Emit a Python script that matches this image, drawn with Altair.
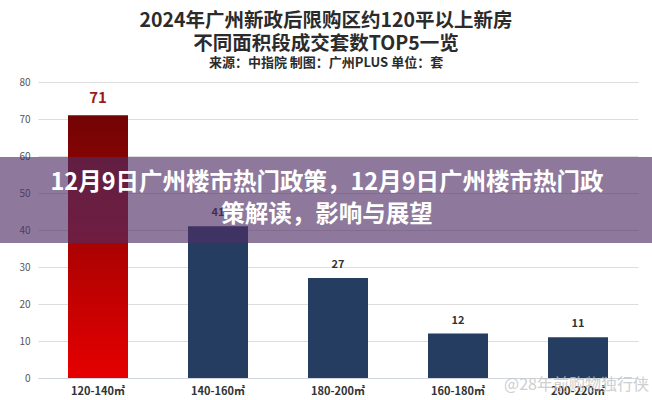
import altair as alt
import pandas as pd

categories = ["120-140㎡", "140-160㎡", "180-200㎡", "160-180㎡", "200-220㎡"]
values = [71, 41, 27, 12, 11]
y_ticks = [0, 10, 20, 30, 40, 50, 60, 70, 80]

title_lines = ["2024年广州新政后限购区约120平以上新房", "不同面积段成交套数TOP5一览"]
subtitle = "来源：中指院 制图：广州PLUS 单位：套"
overlay_lines = ["12月9日广州楼市热门政策，12月9日广州楼市热门政", "策解读，影响与展望"]
watermark = "@28年前购物独行侠"

FONT = "Noto Sans CJK SC"

df = pd.DataFrame({"cat": categories, "val": values})
df["first"] = [i == 0 for i in range(len(categories))]

xenc = alt.X("cat:N", sort=categories,
             scale=alt.Scale(paddingInner=0.5, paddingOuter=0.25),
             axis=alt.Axis(title=None, labelAngle=0, labelFont=FONT, labelFontSize=11,
                           labelFontWeight="bold", labelColor="#333333", ticks=False,
                           domainColor="#cfd6df", labelPadding=7))
yenc = alt.Y("val:Q", scale=alt.Scale(domain=[0, 80], nice=False),
             axis=alt.Axis(title=None, values=y_ticks, labelFont=FONT, labelFontSize=10,
                           labelColor="#555555", ticks=False, domain=False,
                           gridColor="#dddddd", labelPadding=8))

base = alt.Chart(df)

grad = alt.Gradient(gradient="linear",
                    stops=[alt.GradientStop(color="#720404", offset=0),
                           alt.GradientStop(color="#e60000", offset=1)],
                    x1=0, x2=0, y1=0, y2=1)

bar_red = base.transform_filter("datum.first").mark_bar(color=grad).encode(x=xenc, y=yenc)
bar_blue = base.transform_filter("!datum.first").mark_bar(color="#243d60").encode(x=xenc, y=yenc)

lbl_red = base.transform_filter("datum.first").mark_text(
    dy=-17, font=FONT, fontSize=15, fontWeight="bold", color="#9b1c1c"
).encode(x=xenc, y=yenc, text="val:Q")
lbl_blue = base.transform_filter("!datum.first").mark_text(
    dy=-13, font=FONT, fontSize=11, fontWeight="bold", color="#333333"
).encode(x=xenc, y=yenc, text="val:Q")

tdf = pd.DataFrame({"t": title_lines, "yy": [-61, -38]})
titles = alt.Chart(tdf).mark_text(font=FONT, fontSize=19.5, fontWeight="bold",
                                   color="#2b2b2b", baseline="middle").encode(
    x=alt.value(288), y=alt.Y("yy:Q", scale=None), text="t:N")

sdf = pd.DataFrame({"t": [subtitle]})
sub = alt.Chart(sdf).mark_text(font=FONT, fontSize=13, fontWeight="bold",
                               color="#2b2b2b", baseline="middle").encode(
    x=alt.value(288), y=alt.value(-19), text="t:N")

odf = pd.DataFrame({"o": [1]})
overlay = alt.Chart(odf).mark_rect(color="#4e2e66", opacity=0.64).encode(
    x=alt.value(-38), x2=alt.value(614), y=alt.value(75), y2=alt.value(161))

ovdf = pd.DataFrame({"t": overlay_lines, "yy": [101, 133]})
ovtext = alt.Chart(ovdf).mark_text(font=FONT, fontSize=23.5, fontWeight="bold",
                                   color="#ffffff", baseline="middle").encode(
    x=alt.value(289), y=alt.Y("yy:Q", scale=None), text="t:N")

wdf = pd.DataFrame({"t": [watermark]})
wm = alt.Chart(wdf).mark_text(font=FONT, fontSize=16, color="#c4c4c4", opacity=0.8,
                              align="left", baseline="middle").encode(
    x=alt.value(466), y=alt.value(303), text="t:N")

chart = alt.layer(bar_red, bar_blue, lbl_red, lbl_blue, titles, sub, overlay, ovtext, wm).properties(
    width=600, height=296,
    autosize=alt.AutoSizeParams(type="none"),
    padding={"left": 38, "right": 14, "top": 82, "bottom": 22},
    background="#ffffff",
).configure_view(stroke=None)

chart.save("out.html", embed_options={"renderer": "svg", "actions": False})
